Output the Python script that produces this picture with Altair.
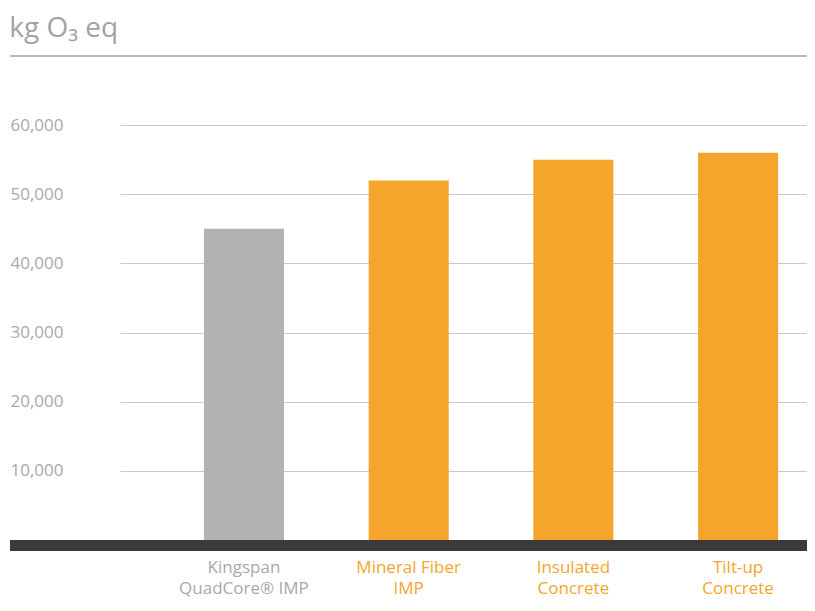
import altair as alt
import pandas as pd

categories = ["Kingspan|QuadCore® IMP", "Mineral Fiber|IMP", "Insulated|Concrete", "Tilt-up|Concrete"]
values = [45000, 52000, 55000, 56000]
bar_colors = ["#b1b2b4", "#f6a52c", "#f6a52c", "#f6a52c"]
y_ticks = [10000, 20000, 30000, 40000, 50000, 60000]
title_text = "kg O₃ eq"

df = pd.DataFrame({"cat": categories, "val": values})

FONT = "Open Sans"
GREY_TXT = "#a9a9a9"
ORANGE = "#f6a52c"

W = 687
H = 484

bars = alt.Chart(df).mark_bar().encode(
    x=alt.X("cat:N", sort=categories,
            scale=alt.Scale(paddingInner=0.514, paddingOuter=0.3425, align=0.744),
            axis=alt.Axis(title=None, labelExpr="split(datum.label, '|')",
                          labelAngle=0, labelFontSize=17, labelFont=FONT,
                          labelLineHeight=21, labelPadding=19, ticks=False, tickSize=0,
                          domain=False,
                          labelColor=alt.expr(f"datum.value == '{categories[0]}' ? '{GREY_TXT}' : '{ORANGE}'"))),
    y=alt.Y("val:Q", scale=alt.Scale(domain=[0, 70000], nice=False),
            axis=alt.Axis(title=None, values=y_ticks, format=",d", labelAlign="left",
                          labelPadding=110, ticks=False, tickSize=0, domain=False,
                          labelFontSize=17, labelFont=FONT, labelColor=GREY_TXT,
                          grid=True, gridColor="#c9c9c9", gridWidth=1)),
    color=alt.Color("cat:N", scale=alt.Scale(domain=categories, range=bar_colors), legend=None),
)

top_rule = alt.Chart(df).mark_rule(color="#b8b8b8", strokeWidth=1.5).encode(
    x=alt.value(-110), x2=alt.value(W), y=alt.value(0)
)

base_band = alt.Chart(df).mark_rect(color="#3b3a38").encode(
    x=alt.value(-110), x2=alt.value(W), y=alt.value(H), y2=alt.value(H + 11)
)

chart = alt.layer(bars, top_rule, base_band).properties(
    width=W, height=H,
    autosize=alt.AutoSizeParams(type="none"),
    padding={"left": 112, "top": 48, "right": 0, "bottom": 60},
    title=alt.Title(title_text, anchor="start", fontSize=28, font=FONT,
                    color="#a3a3a3", fontWeight="normal", offset=12),
).configure_view(stroke=None)

chart.save("out.html", embed_options={"renderer": "svg", "actions": False})
